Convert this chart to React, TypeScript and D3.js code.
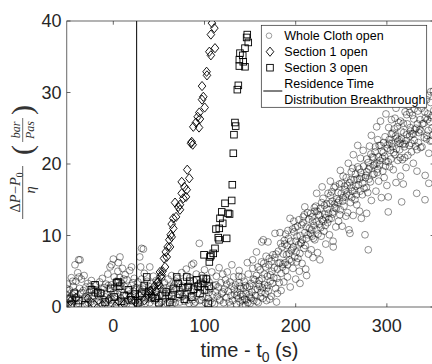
import React from 'react';
import * as d3 from 'd3';

// chart values
const xTicks = [0, 100, 200, 300];
const yTicks = [0, 10, 20, 30, 40];
const breakthroughTime = 25.6;

const legendLabels = ['Whole Cloth open', 'Section 1 open', 'Section 3 open', 'Residence Time', 'Distribution Breakthrough'];

// Whole Cloth open: flat part before the rise
const wholeClothFlat = [
  [-52, 1.8], [-51, 0.6], [-50, 3.2], [-49, 1.1], [-48, 2.4], [-47, 0.3], [-46, 4.1], [-45, 1.7], [-44, 2.9], [-43, 0.8],
  [-42, 5.9], [-42, 2.1], [-41, 3.6], [-40, 1.3], [-39, 4.8], [-38, 6.6], [-38, 0.5], [-37, 2.6], [-36.5, 6.6], [-36, 1.9],
  [-35, 3.9], [-34, 0.9], [-33, 2.3], [-32, 4.4], [-31, 1.4], [-30, 2.8], [-29, 0.4], [-28, 3.3], [-27, 1.6], [-26, 2.1],
  [-25, 0.7], [-24, 3.7], [-23, 1.2], [-22, 2.5], [-21, 0.3], [-20, 1.9], [-19, 3.0], [-18, 0.8], [-17, 2.2], [-16, 1.5],
  [-15, 3.5], [-14, 0.6], [-13, 2.0], [-12, 4.0], [-11, 1.1], [-10, 2.7], [-9, 0.4], [-8, 3.2], [-7, 1.8], [-6, 4.6],
  [-5, 0.9], [-4, 2.4], [-3.6, 5.6], [-3, 1.3], [-2, 5.9], [-2, 3.1], [-1, 0.5], [0, 6.7], [0, 2.0], [1, 4.2],
  [2, 1.4], [3, 3.6], [4, 0.7], [5, 5.0], [5.5, 6.2], [6, 2.6], [7, 4.1], [7.3, 7.0], [8, 1.2], [9, 3.3],
  [10, 5.4], [11, 0.6], [12, 2.9], [13, 4.5], [14, 1.7], [15, 3.8], [16, 0.9], [17, 2.4], [18, 5.1], [19, 1.5],
  [20, 5.6], [20, 3.0], [21, 0.8], [22, 2.2], [23, 4.0], [24, 1.0], [25, 2.7], [26, 0.4], [27, 3.5], [28, 1.6],
  [29, 7.0], [29, 2.5], [30, 5.6], [30, 0.7], [31, 8.2], [31, 3.9], [32, 1.3], [33, 8.1], [33, 2.8], [34, 4.7],
  [35, 0.5], [36, 2.0], [37, 3.6], [38, 1.1], [39, 2.9], [40, 5.6], [40, 0.6], [41, 3.3], [42, 1.7], [43, 2.4],
  [44, 4.3], [45, 0.9], [46, 2.1], [47, 3.7], [48, 1.4], [49, 2.6], [50, 0.4], [51, 3.0], [52, 1.8], [53, 4.1],
  [54, 0.8], [55, 2.3], [56, 3.4], [57, 1.2], [58, 2.7], [59, 0.5], [60, 3.9], [61, 1.6], [62, 2.9], [63, 0.9],
  [64, 4.4], [65, 2.0], [66, 1.1], [67, 3.1], [68, 0.6], [69, 2.5], [70, 4.0], [71, 1.3], [72, 3.3], [73, 0.7],
  [74, 2.2], [75, 4.8], [76, 1.5], [77, 3.6], [78, 0.8], [79, 2.6], [80, 5.3], [81, 1.8], [82, 3.0], [83, 0.5],
  [84, 4.1], [85, 2.2], [86, 5.9], [87, 1.0], [88, 3.7], [88, 6.1], [89, 2.4], [90, 0.7], [91, 4.6], [92, 1.9],
  [93, 3.1], [94.3, 8.9], [95, 0.9], [96, 2.7], [97, 4.4], [98, 1.4], [99, 3.2], [100, 5.2], [101, 0.6], [102, 2.3],
  [103, 4.0], [104, 1.2], [105, 3.5], [106, 0.8], [107, 2.6], [108, 4.9], [109, 1.7], [110, 3.0], [111, 0.4], [112, 2.1],
  [113, 4.3], [114, 1.5], [115, 2.8], [116, 5.5], [117, 0.9], [118, 3.4], [119, 1.9], [120, 4.6], [121, 0.6], [122, 2.5],
  [123, 3.8], [124, 1.3], [125, 4.9], [126, 2.2], [127, 0.7], [128, 3.5], [129, 1.6], [130, 5.9], [130, 2.9], [131, 0.9],
  [132, 4.2], [133, 1.8], [134, 3.1],
  [-51.5, 2.6], [-49.5, 0.2], [-46.5, 1.4], [-44.5, 3.6], [-40.5, 0.4], [-37.5, 4.2], [-34.5, 2.0], [-30.5, 1.1], [-27.5, 0.6], [-25.5, 2.9],
  [-22.5, 1.6], [-18.5, 2.4], [-15.5, 0.9], [-12.5, 2.5], [-8.5, 1.4], [-5.5, 3.0], [-1.5, 1.0], [1.5, 2.8], [4.5, 1.9], [8.5, 2.2],
  [11.5, 3.9], [14.5, 0.4], [17.5, 1.8], [21.5, 3.4], [24.5, 2.4], [28.5, 0.9], [32.5, 2.5], [36.5, 1.5], [40.5, 2.3], [44.5, 1.6],
  [48.5, 3.0], [52.5, 0.7], [56.5, 1.9], [60.5, 2.4], [64.5, 0.4], [68.5, 3.6], [72.5, 1.7], [76.5, 2.9], [80.5, 0.9], [84.5, 1.6],
  [88.5, 0.5], [92.5, 2.8], [96.5, 1.0], [100.5, 3.5], [104.5, 2.0], [108.5, 0.6], [112.5, 3.1], [116.5, 1.1], [120.5, 2.1], [124.5, 3.2],
  [128.5, 0.3], [132.5, 2.5], [135.5, 1.6], [137.5, 4.3], [139, 2.9],
];

// Whole Cloth open: the rising part
const wholeClothRise = [
  [135, 0.4], [136, 2.1], [137, 1.2], [138, 3.4], [139, 0.7], [140, 1.8], [141, 4.2], [142, 0.2], [143, 2.6], [144, 1.1], [145, 3.0], [138, 5.1], [142, 1.5],
  [145, 0.3], [146, 1.0], [147, 2.8], [148, 4.6], [149, 1.7], [150, 0.5], [151, 3.3], [152, 2.1], [153, 5.4], [154, 0.9], [155, 3.8], [147, 6.2], [152.8, 6.6], [150, 1.4],
  [156, 1.6], [157, 4.4], [157, 7.7], [158, 2.5], [159, 0.6], [160, 3.7], [161, 5.2], [162, 2.0], [163, 4.0], [164, 1.2], [164.5, 9.4], [162.7, 9.1], [165, 6.1], [160, 2.9],
  [166, 3.1], [167, 5.6], [168, 0.9], [169, 4.3], [169.6, 9.1], [170, 2.2], [171, 6.8], [172, 3.6], [173, 1.5], [174, 5.0], [175, 7.3], [172, 4.5], [168, 2.6],
  [176, 4.1], [177, 6.9], [177.3, 10.3], [178, 2.6], [179, 0.7], [180, 5.3], [181, 7.8], [182, 3.4], [182.8, 10.4], [183, 6.2], [184, 4.7], [185, 8.4], [180, 1.9], [184, 2.3],
  [186, 6.0], [187, 3.5], [188, 8.8], [189, 5.1], [190, 7.3], [191, 4.2], [192, 9.6], [193, 6.6], [193.8, 12.4], [194, 2.8], [195, 7.9], [189, 10.2], [191, 5.9],
  [196, 8.1], [197, 5.4], [198, 10.5], [199, 7.0], [200, 3.9], [200, 9.2], [201, 6.3], [202, 11.3], [203, 8.7], [204, 5.0], [204.7, 3.3], [204.6, 7.5], [205, 10.0], [198, 12.0],
  [206, 9.0], [207, 6.1], [208, 11.8], [208.3, 12.6], [209, 8.2], [210, 10.4], [211, 5.3], [212, 9.6], [213, 13.2], [214, 7.4], [215, 11.0], [210, 14.0], [212, 4.4],
  [216, 10.3], [217, 8.0], [218, 12.6], [219, 6.9], [220, 11.4], [221, 9.4], [222, 14.1], [223, 15.9], [223, 10.8], [224, 7.6], [225, 12.9], [218, 9.9], [221, 13.4],
  [226, 11.6], [226.6, 6.6], [227, 13.8], [228, 9.9], [229, 12.2], [230, 15.2], [231, 10.6], [232, 13.0], [233, 8.8], [234, 14.4], [235, 11.8], [229, 16.8], [233, 12.5],
  [236, 13.1], [237, 10.1], [238, 15.6], [239, 12.4], [240, 14.8], [241, 9.2], [241.2, 8.4], [242, 16.7], [243, 13.9], [244, 11.2], [245, 15.1], [238, 17.6], [241, 13.3],
  [246, 14.6], [247, 12.0], [248, 17.2], [249, 13.6], [250, 15.9], [251, 11.3], [252, 18.3], [253, 14.1], [254, 16.4], [255, 12.7], [249, 19.1], [252, 15.3],
  [256, 15.8], [257, 13.2], [257.7, 20.1], [258.4, 10.8], [259, 17.4], [259.5, 10.3], [260, 14.6], [261, 18.9], [262, 16.2], [263, 12.8], [263.2, 21.3], [264, 17.8], [265, 15.0], [261, 16.7],
  [266, 16.9], [267, 14.3], [268, 19.6], [269, 17.1], [270, 13.4], [271, 20.8], [272, 18.2], [273, 15.7], [274, 21.9], [275, 16.6], [268, 22.6], [272, 12.4], [270, 17.9],
  [276, 10.1], [277, 18.4], [277.8, 13.1], [278, 20.7], [279, 16.0], [279.6, 8.0], [280, 19.3], [281, 22.5], [282, 17.5], [283, 14.9], [284, 21.0], [285, 19.8], [283, 24.0], [278, 18.9],
  [286, 18.6], [287, 21.7], [288, 16.2], [288.8, 25.2], [289, 20.1], [290, 23.4], [291, 17.6], [292, 19.9], [293, 22.6], [294, 15.3], [295, 20.8], [290, 19.3], [293, 26.0],
  [296, 21.6], [297, 18.1], [298, 23.8], [299, 20.4], [300, 17.0], [301, 22.7], [301.5, 13.3], [301.5, 15.4], [302, 25.1], [303, 19.6], [304, 21.9], [305, 24.2], [299, 27.0], [303, 22.9],
  [306, 22.4], [307, 19.2], [308, 24.9], [308.9, 26.4], [309, 21.3], [310, 17.4], [311, 23.6], [312, 20.5], [313, 25.8], [314, 22.0], [314.4, 22.9], [315, 18.3], [310, 27.8], [312, 23.2],
  [316, 23.5], [316.2, 14.7], [317, 20.6], [318, 25.7], [319, 22.4], [320, 27.3], [321, 19.5], [321.7, 26.9], [322, 24.1], [323, 21.2], [324, 28.1], [325, 23.9], [318, 17.2], [320, 22.8],
  [326, 24.6], [327, 21.7], [328, 26.8], [329, 20.1], [330, 23.3], [331, 28.6], [332, 25.0], [332.7, 15.9], [333, 22.0], [334, 27.4], [335, 24.4], [329, 24.2], [333, 19.0],
  [336, 24.8], [337, 22.3], [338, 27.8], [339, 25.6], [340, 29.3], [341, 23.7], [341.8, 15.0], [342, 26.4], [343.6, 29.0], [344, 24.0], [345, 27.0], [346, 21.5],
  [347, 25.9], [348, 28.6], [349, 23.3], [350, 26.8], [351, 30.2], [342, 18.4], [346, 17.3], [350, 24.0],
];

// Whole Cloth open: extra points along the dense core of the rise
const wholeClothCore = [
  [139.5, 2.6], [141.5, 0.9], [143.5, 3.6], [145.5, 1.9], [147.5, 0.6], [149.5, 2.9], [151.5, 1.2], [153.5, 3.9], [155.5, 2.4], [157.5, 0.8],
  [158.5, 5.6], [159.5, 3.2], [161.5, 1.4], [162.5, 6.3], [163.5, 2.7], [165.5, 4.6], [166.5, 1.9], [167.5, 7.1], [169.5, 3.0], [170.5, 5.9],
  [171.5, 1.1], [173.5, 6.4], [174.5, 3.3], [176.5, 5.5], [178.5, 7.4], [179.5, 4.0], [181.5, 6.1], [183.5, 8.9], [185.5, 5.6],
  [186.5, 7.4], [187.5, 9.3], [188.5, 6.2], [190.5, 8.6], [191.5, 10.7], [192.5, 7.5], [194.5, 9.2], [195.5, 6.4], [196.5, 10.9], [197.5, 8.4],
  [199.5, 11.1], [200.5, 7.7], [201.5, 9.9], [202.5, 6.8], [203.5, 12.2], [205.5, 8.9], [206.5, 11.5], [207.5, 9.4], [209.5, 12.9], [210.5, 8.6],
  [211.5, 11.2], [213.5, 10.1], [214.5, 12.3], [216.5, 13.1], [217.5, 10.8], [218.5, 12.0], [219.5, 9.6], [220.5, 13.9], [222.5, 11.9], [223.5, 13.4],
  [224.5, 10.2], [226.5, 12.8], [227.5, 11.1], [228.5, 14.6],
  [230.5, 12.0], [231.5, 14.2], [232.5, 11.4], [234.5, 13.7], [235.5, 15.9], [236.5, 12.3], [237.5, 14.5], [239.5, 16.1], [240.5, 13.0], [242.5, 14.4],
  [243.5, 16.9], [244.5, 13.8], [246.5, 16.0], [247.5, 14.9], [248.5, 12.9], [250.5, 17.3], [251.5, 14.8], [253.5, 16.9], [254.5, 15.4], [255.5, 18.1],
  [256.5, 17.0], [258.5, 15.6], [260.5, 17.8], [261.5, 15.3], [262.5, 19.4], [264.5, 16.3], [265.5, 18.6], [266.5, 15.7], [267.5, 17.9], [269.5, 19.3],
  [270.5, 16.2], [271.5, 18.8], [273.5, 17.3], [274.5, 19.7], [276.5, 18.1], [277.5, 16.7], [279.5, 20.2],
  [280.5, 17.9], [281.5, 19.6], [282.5, 21.4], [284.5, 18.5], [285.5, 20.9], [286.5, 19.9], [287.5, 22.4], [289.5, 18.8], [290.5, 21.0], [291.5, 22.6],
  [292.5, 20.5], [294.5, 21.8], [295.5, 19.0], [296.5, 23.0], [297.5, 21.1], [298.5, 19.7], [300.5, 22.2], [301.5, 20.3], [302.5, 23.4], [304.5, 20.7],
  [305.5, 22.9], [306.5, 24.3], [307.5, 21.6], [309.5, 23.9], [310.5, 22.1], [311.5, 25.2], [313.5, 23.4], [314.5, 20.9], [315.5, 24.6], [317.5, 22.8],
  [318.5, 24.4], [319.5, 20.9], [321.5, 23.3], [322.5, 25.6], [324.5, 22.6], [325.5, 25.1], [326.5, 22.9], [327.5, 24.2], [329.5, 26.3], [330.5, 24.8],
  [331.5, 22.5], [333.5, 25.6], [334.5, 23.0], [336.5, 26.2], [337.5, 24.6], [338.5, 22.4], [340.5, 25.7], [341.5, 27.3], [343.5, 23.5], [344.5, 26.2],
  [345.5, 24.7], [347.5, 23.2], [348.5, 26.5], [349.5, 25.0], [351.5, 27.5],
  [325, 27.2], [335, 28.9], [345, 29.6], [348, 30.1], [339, 29.8], [330, 27.7], [315, 26.0], [305, 26.2],
];

// Section 1 open (diamonds)
const section1 = [
  [-47, 0.8], [-41, 1.3], [-28, 1.2], [-22, 0.5], [-12, 0.3], [-5, 1.1], [2, 0.1], [6, 0.8], [12, 0.4], [18, 1.3],
  [24, 0.7], [29, 1.6], [34, 0.9], [38, 1.8], [40.2, 1.9], [41, 2.3], [43, 1.4], [45, 2.9], [47, 2.2], [48, 3.4],
  [49.4, 3.5], [50, 3.1], [51.2, 4.9], [52, 4.3], [53.1, 4.5], [54, 5.0], [55.6, 6.8], [56.7, 5.6], [57.5, 7.7], [58.6, 7.0],
  [59.6, 8.4], [62.2, 8.4], [61.4, 9.4], [62.9, 10.1], [64, 9.8], [64, 11.6], [65.8, 11.0], [65.8, 12.4], [67.7, 14.6], [68.8, 12.6],
  [71.3, 14.0], [73.1, 13.6], [73.1, 14.3], [75, 15.9], [75, 17.5], [76.8, 15.2], [77.9, 16.8], [79.7, 15.4], [80.5, 16.4], [81.1, 19.2],
  [83.3, 18.0], [85.2, 22.9], [86, 23.1], [87.1, 22.7], [87.7, 25.2], [90.7, 25.8], [92.5, 26.6], [94, 25.1], [94.3, 27.2], [95, 26.3],
  [97.3, 29.0], [97.3, 30.9], [98.7, 29.4], [100.2, 27.9], [102.3, 32.9], [102.7, 32.4], [105.3, 35.7], [107, 35.2], [107, 38.1], [108.2, 39.7],
  [110.8, 39.0], [111.5, 36.2],
];

// Section 3 open (squares)
const section3 = [
  [-48, 1.2], [-46, 0.4], [-43, 1.9], [-38, 0.9], [-31, 0.3], [-24, 2.4], [-20, 3.1], [-17, 2.0], [-14, 1.9], [-9, 0.7],
  [-3, 2.6], [1, 1.4], [4, 3.4], [5.5, 3.5], [7, 2.9], [9, 0.8], [12, 1.6], [16.5, 2.4], [20, 1.0], [24, 1.8],
  [27, 0.6], [31, 1.9], [34, 3.0], [36.6, 4.2], [39, 2.2], [42, 1.3], [46, 1.2], [50, 0.6], [54, 1.6], [58, 2.1],
  [62, 0.7], [64, 1.5], [66, 2.6], [69.5, 4.2], [71, 3.3], [73, 1.8], [76, 2.7], [78, 1.1], [80.5, 4.2], [82, 2.8],
  [84, 3.6], [86, 1.4], [88, 2.5], [91.4, 3.8], [93, 2.9], [95, 1.9], [96, 3.3], [98.7, 4.0], [100, 2.4], [102, 3.9],
  [104.2, 0.5], [105, 2.9],
  [99.5, 7.3], [105.3, 6.3], [106, 7.0], [107, 7.2], [109.6, 7.5], [111.5, 8.2], [112.6, 10.9], [115.1, 9.7], [116, 9.4], [116.2, 11.0],
  [117, 12.4], [118.9, 13.3], [120, 11.7], [122.5, 14.5], [124.3, 9.6], [125.8, 13.1], [127.5, 13.0], [129.8, 14.9], [130.5, 17.1], [131.6, 21.5],
  [132.3, 24.1], [133.4, 25.8], [134.2, 25.3], [136, 30.4], [137.1, 31.0], [138.2, 33.7], [138.2, 34.6], [138.9, 35.5], [141.9, 35.2], [142.5, 34.3],
  [144.4, 33.6], [144.4, 36.2], [146.2, 37.7], [146.9, 38.1], [148, 37.0],
];

const W = 432;
const H = 364;
const left = 66.8, right = 434.3, top = 21, bottom = 307;
const sans = '"Liberation Sans", Arial, Helvetica, sans-serif';
const serif = '"Liberation Serif", "Times New Roman", serif';
const axisColor = '#262626';

function diamond(cx: number, cy: number, hw = 3.8, hh = 4.6) {
  return `M${cx},${cy - hh}L${cx + hw},${cy}L${cx},${cy + hh}L${cx - hw},${cy}Z`;
}

export default function App() {
  const x = d3.scaleLinear().domain([-51, 352]).range([left, right]);
  const y = d3.scaleLinear().domain([0, 40]).range([bottom, top]);
  const tickLen = 3.7;
  const sq = 6.6;

  const legX = 261.3, legY = 25.3, legW = 165.4, legH = 82;
  const rowY = [35.7, 51.7, 67.7, 83.3, 99.3];
  const circles = wholeClothFlat.concat(wholeClothRise, wholeClothCore);

  return (
    <svg width={W} height={H} style={{ position: 'absolute', left: 0, top: 0, background: '#fff' }}>
      <defs>
        <clipPath id="plotClip">
          <rect x={left} y={top} width={right - left} height={bottom - top} />
        </clipPath>
      </defs>
      <rect x={0} y={0} width={W} height={H} fill="#fff" />

      <g clipPath="url(#plotClip)">
        {/* whole cloth circles */}
        <g fill="none" stroke="#000" strokeOpacity={0.58} strokeWidth={0.75}>
          {circles.map((d, i) => (
            <circle key={i} cx={x(d[0])} cy={y(d[1])} r={3.4} />
          ))}
        </g>
        {/* section 1 diamonds */}
        <g fill="none" stroke="#000" strokeWidth={0.9}>
          {section1.map((d, i) => (
            <path key={i} d={diamond(x(d[0]), y(d[1]))} />
          ))}
        </g>
        {/* section 3 squares */}
        <g fill="none" stroke="#000" strokeWidth={0.9}>
          {section3.map((d, i) => (
            <rect key={i} x={x(d[0]) - sq / 2} y={y(d[1]) - sq / 2} width={sq} height={sq} />
          ))}
        </g>
        {/* residence time breakthrough */}
        <line x1={x(breakthroughTime)} x2={x(breakthroughTime)} y1={top} y2={bottom} stroke="#000" strokeWidth={1} />
      </g>

      {/* axes box */}
      <g stroke={axisColor} strokeWidth={0.7} fill="none">
        <rect x={left} y={top} width={right - left} height={bottom - top} />
        {xTicks.map(t => (
          <g key={t}>
            <line x1={x(t)} x2={x(t)} y1={bottom} y2={bottom - tickLen} />
            <line x1={x(t)} x2={x(t)} y1={top} y2={top + tickLen} />
          </g>
        ))}
        {yTicks.map(t => (
          <g key={t}>
            <line x1={left} x2={left + tickLen} y1={y(t)} y2={y(t)} />
            <line x1={right} x2={right - tickLen} y1={y(t)} y2={y(t)} />
          </g>
        ))}
      </g>

      {/* tick labels */}
      <g fontFamily={sans} fontSize={18} fill={axisColor}>
        {xTicks.map(t => (
          <text key={t} x={x(t)} y={331.5} textAnchor="middle">{t}</text>
        ))}
        {yTicks.map(t => (
          <text key={t} x={61.5} y={y(t) + 6.4} textAnchor="end">{t}</text>
        ))}
      </g>

      {/* x label */}
      <text x={249.5} y={357} fontFamily={sans} fontSize={20} fill={axisColor} textAnchor="middle">
        time - t<tspan fontSize={14} dy={5}>0</tspan><tspan dy={-5}> (s)</tspan>
      </text>

      {/* y label: (ΔP − P0)/η (bar/Pas) */}
      <g transform="translate(24,164) rotate(-90)" fill="#333" fontFamily={serif}>
        <text x={-28.5} y={-4} fontSize={14.5} textAnchor="middle">
          <tspan>Δ</tspan><tspan fontStyle="italic">P</tspan><tspan>−</tspan><tspan fontStyle="italic">P</tspan>
          <tspan fontSize={9.5} dy={3}>0</tspan>
        </text>
        <line x1={-55} x2={-2} y1={-1.3} y2={-1.3} stroke="#333" strokeWidth={0.8} />
        <text x={-26} y={11} fontSize={14.5} fontStyle="italic" textAnchor="middle">η</text>

        <text x={14} y={8} fontSize={30} textAnchor="middle">(</text>
        <text x={34} y={-4.5} fontSize={12} fontStyle="italic" textAnchor="middle">bar</text>
        <line x1={22} x2={46} y1={-1.3} y2={-1.3} stroke="#333" strokeWidth={0.7} />
        <text x={34} y={9.5} fontSize={12} fontStyle="italic" textAnchor="middle">Pas</text>
        <text x={54} y={8} fontSize={30} textAnchor="middle">)</text>
      </g>

      {/* legend */}
      <g>
        <rect x={legX} y={legY} width={legW} height={legH} fill="#fff" stroke={axisColor} strokeWidth={0.7} />
        <circle cx={269} cy={rowY[0]} r={2.8} fill="none" stroke="#000" strokeOpacity={0.5} strokeWidth={0.75} />
        <path d={diamond(270, rowY[1], 3.8, 4.6)} fill="none" stroke="#000" strokeWidth={0.9} />
        <rect x={270 - sq / 2} y={rowY[2] - sq / 2} width={sq} height={sq} fill="none" stroke="#000" strokeWidth={0.9} />
        <line x1={263.3} x2={282.3} y1={91} y2={91} stroke="#000" strokeWidth={1} />
        <g fontFamily={sans} fontSize={12.5} fill="#000">
          {legendLabels.map((l, i) => (
            <text key={l} x={284.3} y={rowY[i] + 4.5}>{l}</text>
          ))}
        </g>
      </g>
    </svg>
  );
}
